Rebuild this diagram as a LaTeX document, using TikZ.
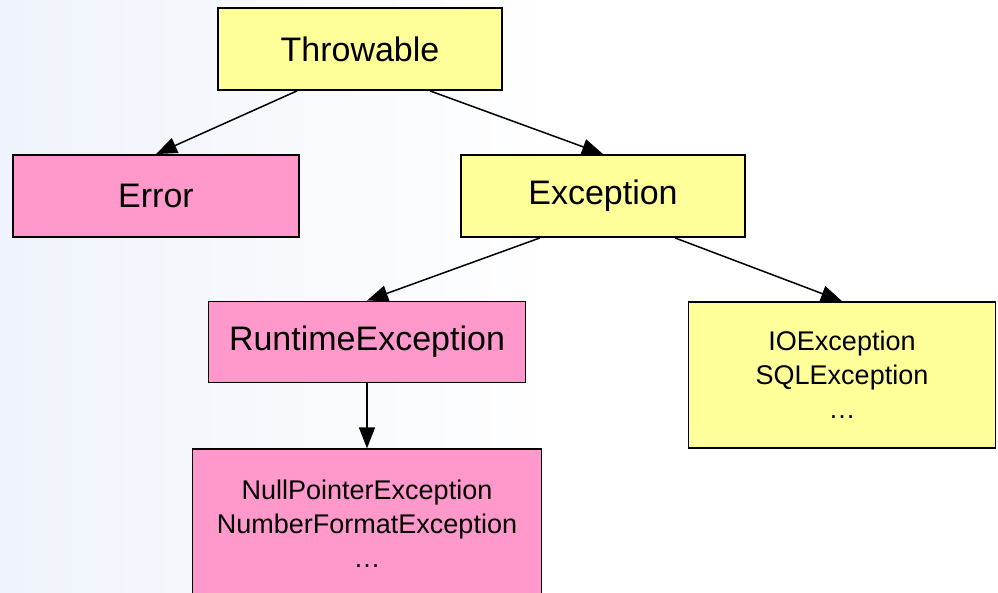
\documentclass[tikz,border=0pt]{standalone}
\usepackage{fontspec}
\setmainfont{Liberation Sans}
\usepackage{tikz}
\usetikzlibrary{arrows.meta, positioning}
\usepackage{xcolor}
\definecolor{boxyellow}{HTML}{FFFF99}
\definecolor{boxpink}{HTML}{FF99CC}
\definecolor{bgblue}{HTML}{EFF3FB}
\tikzstyle{cls}   = [rectangle, draw=black, line width=1.8pt, inner sep=0pt, text centered, font=\fontsize{34}{40}\selectfont]
\tikzstyle{group} = [rectangle, draw=black, line width=1.8pt, inner sep=0pt, align=center, font=\fontsize{27}{34}\selectfont]
\tikzstyle{arrow} = [line width=1.5pt,-{Triangle[length=21pt,width=16pt]}]

\begin{document}
\begin{tikzpicture}[x=1pt, y=1pt]
  % background
  \shade[left color=bgblue, right color=white] (0,0) rectangle (560,-592);
  \fill[white] (560,0) rectangle (998,-592);
  \useasboundingbox (0,0) rectangle (998,-592);

  % root
  \node[cls, fill=boxyellow, minimum width=284pt, minimum height=82pt] (thr) at (360,-49) {Throwable};

  % second level
  \node[cls, fill=boxpink, minimum width=286pt, minimum height=82pt] (err) at (156,-196) {Error};
  \node[cls, fill=boxyellow, minimum width=284pt, minimum height=82pt] (exc) at (603,-196) {Exception};

  % third level
  \node[cls, fill=boxpink, minimum width=317pt, minimum height=81pt] (rte) at (367,-342) {RuntimeException};
  \node[group, fill=boxyellow, minimum width=307pt, minimum height=146pt] (chk) at (842,-375) {IOException\\SQLException\\\ldots};

  % leaves
  \node[group, fill=boxpink, minimum width=349pt, minimum height=148pt, below=65pt of rte] (npe) {NullPointerException\\NumberFormatException\\\ldots};

  % inheritance
  \draw[arrow] ([xshift=-63pt]thr.south) -- (err.north);
  \draw[arrow] ([xshift=70pt]thr.south) -- (exc.north);
  \draw[arrow] ([xshift=-63pt]exc.south) -- (rte.north);
  \draw[arrow] ([xshift=72pt]exc.south) -- (chk.north);
  \draw[arrow] (rte.south) -- (npe.north);
\end{tikzpicture}
\end{document}
